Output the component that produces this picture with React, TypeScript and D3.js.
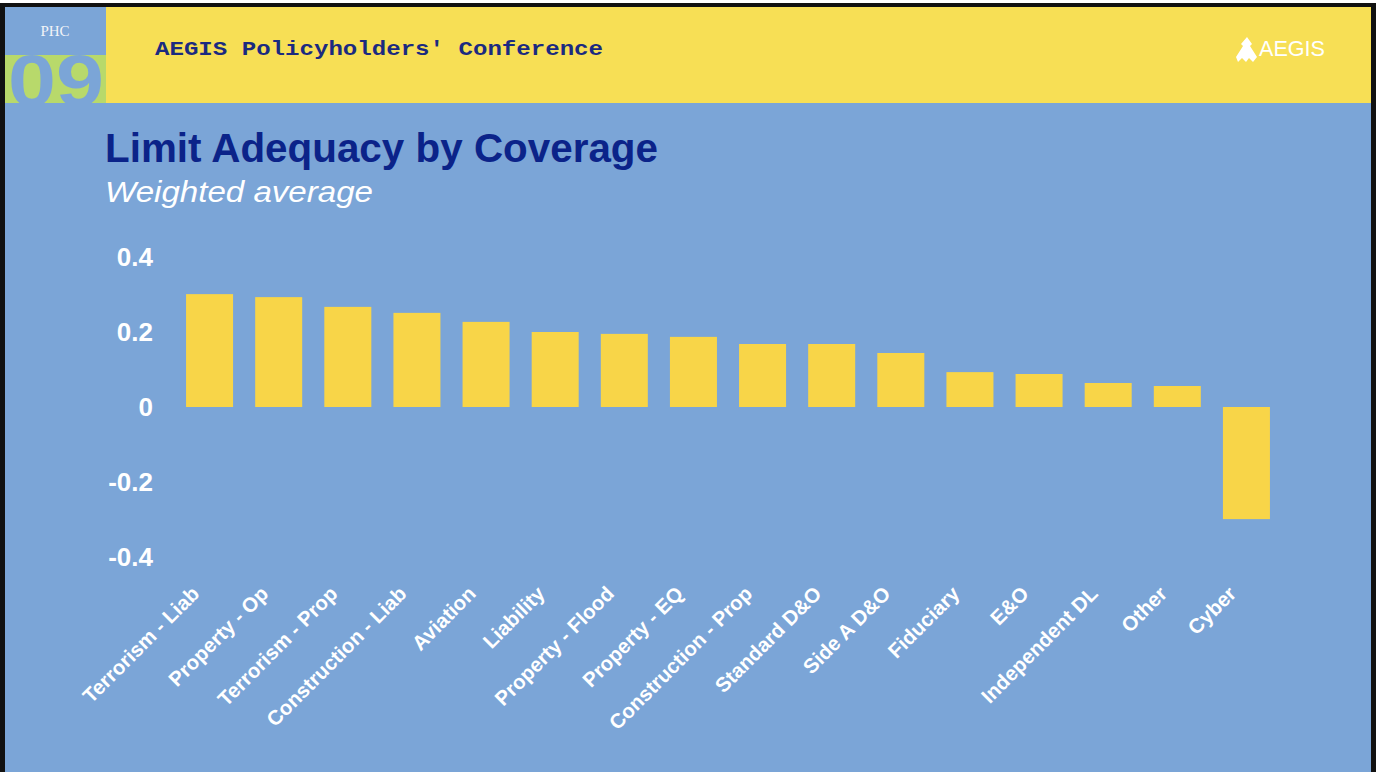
import React, { useMemo } from 'react';
import * as d3 from 'd3';

const categories = [
  'Terrorism - Liab', 'Property - Op', 'Terrorism - Prop', 'Construction - Liab',
  'Aviation', 'Liability', 'Property - Flood', 'Property - EQ', 'Construction - Prop',
  'Standard D&O', 'Side A D&O', 'Fiduciary', 'E&O', 'Independent DL', 'Other', 'Cyber',
];
const adequacy = [
  0.301, 0.293, 0.267, 0.251, 0.227, 0.2, 0.195, 0.187, 0.168,
  0.168, 0.144, 0.093, 0.088, 0.064, 0.056, -0.299,
];
const yTicks = [0.4, 0.2, 0, -0.2, -0.4];
const yTickLabels = ['0.4', '0.2', '0', '-0.2', '-0.4'];

const W = 1376;
const H = 772;
const slideBlue = '#7BA5D7';
const barYellow = '#F8D548';
const bandYellow = '#F7DF55';
const navy = '#0B2389';

export default function App() {
  // plot area taken from the slide's chart
  const plot = { left: 175, right: 1281, top: 257, bottom: 557 };

  const x = useMemo(() => d3.scaleBand<string>()
    .domain(categories)
    .range([plot.left, plot.right])
    .paddingInner(0.32)
    .paddingOuter(0.16), []);

  const y = useMemo(() => d3.scaleLinear()
    .domain([-0.4, 0.4])
    .range([plot.bottom, plot.top]), []);

  const sans = '"Liberation Sans", Arial, sans-serif';

  return (
    <svg width={W} height={H} viewBox={`0 0 ${W} ${H}`}
      style={{ position: 'absolute', left: 0, top: 0, display: 'block' }}>
      <rect x={0} y={0} width={W} height={H} fill="#fff" />
      <rect x={0} y={3} width={W} height={H} fill="#111" />
      <rect x={5} y={7} width={1366} height={H} fill={slideBlue} />

      {/* header band */}
      <rect x={106} y={7} width={1265} height={96} fill={bandYellow} />
      <rect x={5} y={7} width={101} height={96} fill={slideBlue} />
      <rect x={5} y={55} width={101} height={48} fill="#B8D96B" />
      <clipPath id="phc-clip">
        <rect x={5} y={50} width={101} height={53} />
      </clipPath>
      <text x={8} y={106} clipPath="url(#phc-clip)" fill={slideBlue}
        fontFamily={sans} fontWeight="bold" fontSize={72}
        textLength={96} lengthAdjust="spacingAndGlyphs">09</text>
      <text x={55} y={36} textAnchor="middle" fill="#F2F4F8"
        fontFamily='"Liberation Serif", "DejaVu Serif", serif' fontSize={15}>PHC</text>

      <text x={155} y={55} fill="#1B2A80" fontFamily='"Liberation Mono", "DejaVu Sans Mono", monospace'
        fontWeight="bold" fontSize={21} textLength={448} lengthAdjust="spacingAndGlyphs">
        AEGIS Policyholders' Conference
      </text>

      {/* logo */}
      <path d="M1247,37 L1252,44 L1250,46 L1257,57 L1253,62 L1249,58 L1246,62 L1242,58 L1238,62 L1236,57 L1243,46 L1241,44 Z"
        fill="#fff" />
      <text x={1259} y={56} fill="#fff" fontFamily={sans} fontSize={22}
        textLength={66} lengthAdjust="spacingAndGlyphs">AEGIS</text>

      {/* titles */}
      <text x={105} y={162} fill={navy} fontFamily={sans} fontWeight="bold" fontSize={40}
        textLength={553} lengthAdjust="spacingAndGlyphs">
        Limit Adequacy by Coverage
      </text>
      <text x={105} y={202} fill="#fff" fontFamily={sans} fontStyle="italic" fontSize={30}
        textLength={268} lengthAdjust="spacingAndGlyphs">
        Weighted average
      </text>

      {/* y axis labels */}
      {yTicks.map((t, i) => (
        <text key={t} x={153} y={y(t)} dy="0.35em" textAnchor="end" fill="#fff"
          fontFamily={sans} fontWeight="bold" fontSize={26}>
          {yTickLabels[i]}
        </text>
      ))}

      {/* bars */}
      {categories.map((c, i) => {
        const v = adequacy[i];
        return (
          <rect key={c} x={x(c)} width={x.bandwidth()}
            y={y(Math.max(0, v))} height={Math.abs(y(v) - y(0))} fill={barYellow} />
        );
      })}

      {/* category labels */}
      {categories.map(c => {
        const cx = (x(c) ?? 0) + x.bandwidth() / 2 - 9;
        const cy = plot.bottom + 38;
        return (
          <text key={c} transform={`translate(${cx},${cy}) rotate(-45)`} textAnchor="end"
            fill="#fff" fontFamily={sans} fontWeight="bold" fontSize={20.5}>
            {c}
          </text>
        );
      })}
    </svg>
  );
}
